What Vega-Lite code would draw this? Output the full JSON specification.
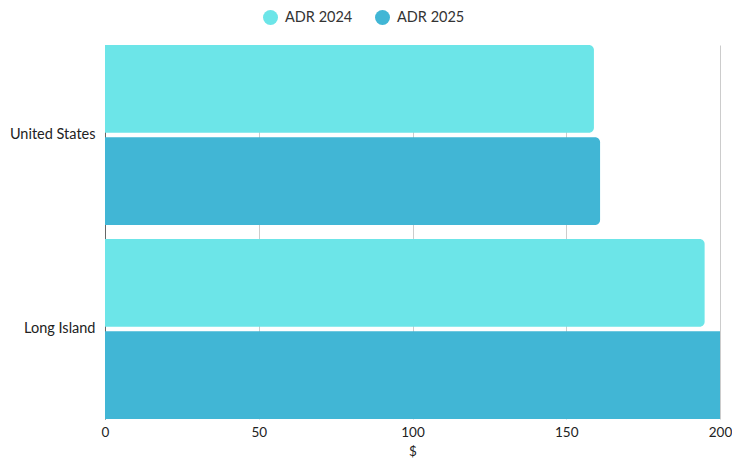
{
  "$schema": "https://vega.github.io/schema/vega-lite/v6.json",
  "autosize": {"type": "none"},
  "width": 615,
  "height": 374,
  "padding": {"left": 105, "top": 45, "right": 12, "bottom": 43},
  "background": "white",
  "config": {
    "font": "Lato",
    "view": {"stroke": null},
    "axis": {"labelFont": "Lato", "titleFont": "Lato", "labelColor": "#222", "titleColor": "#222"}
  },
  "data": {
    "values": [
      {"region": "United States", "series": "ADR 2024", "value": 159},
      {"region": "United States", "series": "ADR 2025", "value": 161},
      {"region": "Long Island", "series": "ADR 2024", "value": 195},
      {"region": "Long Island", "series": "ADR 2025", "value": 206}
    ]
  },
  "encoding": {
    "y": {
      "field": "region",
      "type": "nominal",
      "sort": ["United States", "Long Island"],
      "scale": {"paddingInner": 0.072, "paddingOuter": 0},
      "axis": {
        "title": null,
        "ticks": false,
        "labelFontSize": 14.5,
        "labelPadding": 10,
        "domain": true,
        "domainColor": "#666"
      }
    },
    "yOffset": {
      "field": "series",
      "type": "nominal",
      "sort": ["ADR 2024", "ADR 2025"],
      "scale": {"paddingInner": 0.049, "paddingOuter": 0}
    },
    "x": {
      "field": "value",
      "type": "quantitative",
      "stack": null,
      "scale": {"domain": [0, 200], "nice": false, "clamp": true},
      "axis": {
        "title": "$",
        "titleFontSize": 13.5,
        "titleFontWeight": "normal",
        "titlePadding": 6,
        "labelFontSize": 13.5,
        "labelPadding": 6,
        "values": [0, 50, 100, 150, 200],
        "ticks": false,
        "domain": false,
        "grid": true,
        "gridColor": "#cccccc",
        "labelFlush": false
      }
    },
    "color": {
      "field": "series",
      "type": "nominal",
      "scale": {"domain": ["ADR 2024", "ADR 2025"], "range": ["#6ce5e8", "#41b6d5"]},
      "legend": {
        "title": null,
        "orient": "none",
        "direction": "horizontal",
        "legendX": 158,
        "legendY": -35,
        "symbolType": "circle",
        "symbolSize": 225,
        "symbolStrokeWidth": 0,
        "labelFontSize": 14.5,
        "labelColor": "#333",
        "labelOffset": 7,
        "columnPadding": 22
      }
    }
  },
  "layer": [
    {
      "transform": [{"filter": "datum.value <= 200"}],
      "mark": {"type": "bar", "cornerRadiusEnd": 5}
    },
    {
      "transform": [{"filter": "datum.value > 200"}],
      "mark": {"type": "bar"}
    }
  ]
}
